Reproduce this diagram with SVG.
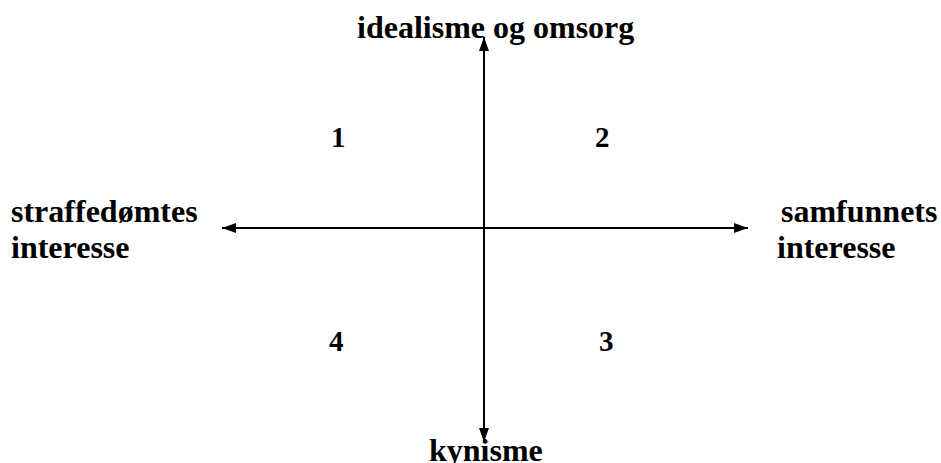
<svg xmlns="http://www.w3.org/2000/svg" width="941" height="463" viewBox="0 0 941 463">
<style>
text{font-family:'Liberation Serif','DejaVu Serif',serif;font-weight:700;font-size:32px;fill:#000}
.num{font-size:29px}
.ax{stroke:#000;stroke-width:2;fill:none}
</style>
<defs>
<marker id="ah" markerWidth="14" markerHeight="10" refX="14" refY="5" orient="auto" markerUnits="userSpaceOnUse">
<path d="M0,0 L14,5 L0,10 Z" fill="#000"/>
</marker>
</defs>
<rect width="941" height="463" fill="#fff"/>
<g id="connectors">
<line class="ax" x1="484" y1="228" x2="484" y2="37" marker-end="url(#ah)"/>
<line class="ax" x1="484" y1="228" x2="484" y2="442" marker-end="url(#ah)"/>
<line class="ax" x1="484" y1="228" x2="222" y2="228" marker-end="url(#ah)"/>
<line class="ax" x1="484" y1="228" x2="748" y2="228" marker-end="url(#ah)"/>
</g>
<g id="top"><text x="357" y="38">idealisme og omsorg</text></g>
<g id="bottom"><text x="429" y="461">kynisme</text></g>
<g id="left"><text x="11" y="222">straffedømtes</text><text x="11" y="258">interesse</text></g>
<g id="right"><text x="781" y="222">samfunnets</text><text x="777" y="258">interesse</text></g>
<g id="q1"><text class="num" x="331" y="147">1</text></g>
<g id="q2"><text class="num" x="595" y="147">2</text></g>
<g id="q3"><text class="num" x="599" y="351">3</text></g>
<g id="q4"><text class="num" x="329" y="351">4</text></g>
</svg>
